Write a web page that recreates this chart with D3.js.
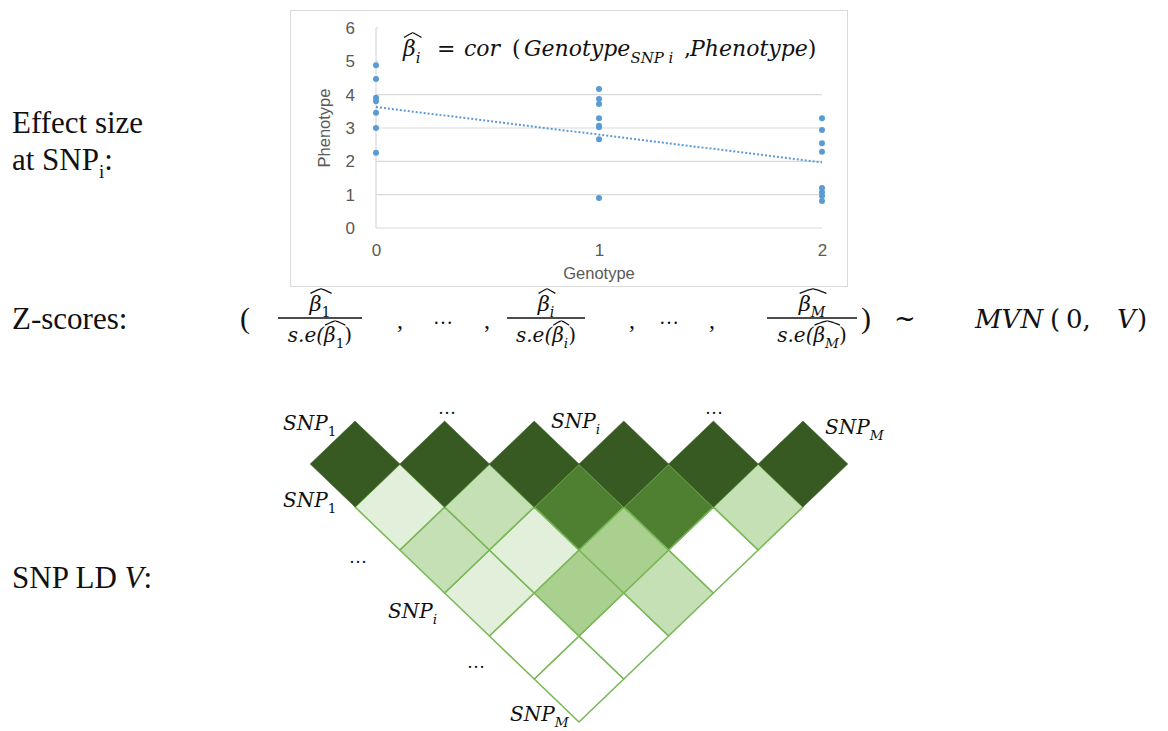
<!DOCTYPE html>
<html>
<head>
<meta charset="utf-8">
<script src="https://cdn.jsdelivr.net/npm/d3@7"></script>
<style>
  body { margin: 0; background: #fff; }
  svg { display: block; }
</style>
</head>
<body>
<svg id="fig" width="1168" height="731"></svg>
<script>
// ---- scatter: phenotype by genotype ----
var genotypes = [0, 1, 2];
var phenoG0 = [4.88, 4.47, 3.91, 3.80, 3.46, 3.00, 2.26];
var phenoG1 = [4.17, 3.87, 3.72, 3.29, 3.07, 3.02, 2.66, 0.90];
var phenoG2 = [3.29, 2.94, 2.54, 2.29, 1.20, 1.07, 0.96, 0.81];
var trendX = [0, 2];
var trendY = [3.63, 1.97];
var yTicks = [0, 1, 2, 3, 4, 5, 6];
var xTicks = [0, 1, 2];

// ---- LD triangle: shade level per cell, one array per off-diagonal row ----
var snps = [0, 1, 2, 3, 4, 5];
var ldRow0 = [5, 5, 5, 5, 5, 5];
var ldRow1 = [1, 2, 4, 4, 2];
var ldRow2 = [2, 1, 3, 0];
var ldRow3 = [1, 3, 2];
var ldRow4 = [0, 0];
var ldRow5 = [0];
var ldShades = ["#ffffff", "#e2efda", "#c5e0b4", "#a9d08e", "#4f7f30", "#375a22"];

var MATH = "'DejaVu Serif', serif";
var SERIF = "'Liberation Serif', 'Times New Roman', serif";
var SANS = "'Liberation Sans', Arial, sans-serif";

var svg = d3.select("#fig");

// text with italic parts, subscripts and an optional wide hat
function mathText(parent, x, y, size, anchor, parts, hat) {
  var t = parent.append("text")
    .attr("x", x).attr("y", y)
    .attr("font-family", MATH)
    .attr("font-size", size)
    .attr("text-anchor", anchor)
    .attr("fill", "#111");
  var shift = 0;
  parts.forEach(function(p) {
    var target = p.sub ? size * 0.3 : 0;
    var upright = p.up || /^[0-9]+$/.test(p.t);
    var sp = t.append("tspan").text(p.t)
      .attr("dy", target - shift)
      .attr("font-style", upright ? "normal" : "italic");
    if (p.sub) sp.attr("font-size", size * 0.68);
    if (p.x != null) sp.attr("x", p.x);
    shift = target;
  });
  if (hat) {
    var n = t.node();
    var a = n.getExtentOfChar(hat[0]), b = n.getExtentOfChar(hat[1]);
    var x0 = a.x + 1, x1 = b.x + b.width + 1;
    var base = y - size * 0.84, top = base - size * 0.2;
    parent.append("path")
      .attr("d", "M" + x0 + "," + base + " Q" + ((x0 + x1) / 2) + "," + (top - 1) + " " + ((x0 + x1) / 2) + "," + top +
                 " Q" + ((x0 + x1) / 2) + "," + (top - 1) + " " + x1 + "," + base)
      .attr("fill", "none").attr("stroke", "#111").attr("stroke-width", 1.3);
  }
  return t;
}

function plainText(parent, x, y, size, str, anchor) {
  return parent.append("text").attr("x", x).attr("y", y)
    .attr("font-family", SERIF).attr("font-size", size)
    .attr("text-anchor", anchor || "start").attr("fill", "#111").text(str);
}

// ---------------- left labels ----------------
plainText(svg, 12, 133, 31, "Effect size");
var at = plainText(svg, 12, 170, 31, "at SNP");
at.append("tspan").attr("dy", 8).attr("font-size", 19).text("i");
at.append("tspan").attr("dy", -8).text(":");
plainText(svg, 12, 329, 31, "Z-scores:");
var ld = plainText(svg, 12, 588, 31, "SNP LD ");
ld.append("tspan").attr("font-style", "italic").text("V");
ld.append("tspan").text(":");

// ---------------- scatter ----------------
var sc = svg.append("g");
var x = d3.scaleLinear().domain([0, 2]).range([376, 822]);
var y = d3.scaleLinear().domain([0, 6]).range([228, 28]);

sc.append("rect").attr("x", 290.5).attr("y", 10.5).attr("width", 557).attr("height", 276)
  .attr("fill", "#fff").attr("stroke", "#d9d9d9");

sc.selectAll("line.grid").data(yTicks).enter().append("line")
  .attr("class", "grid")
  .attr("x1", x(0)).attr("x2", x(2))
  .attr("y1", function(d) { return y(d); }).attr("y2", function(d) { return y(d); })
  .attr("stroke", "#d9d9d9").attr("stroke-width", 1.2);
sc.append("line").attr("x1", x(0)).attr("x2", x(0)).attr("y1", y(0)).attr("y2", y(6))
  .attr("stroke", "#d9d9d9").attr("stroke-width", 1.2);

// formula box (white) sits over the top gridlines
sc.append("rect").attr("x", 378).attr("y", 24).attr("width", 446).attr("height", 52).attr("fill", "#fff");

var yAxis = sc.append("g").attr("transform", "translate(" + x(0) + ",0)")
  .call(d3.axisLeft(y).tickValues(yTicks).tickFormat(d3.format("d")).tickSize(0).tickPadding(21));
var xAxis = sc.append("g").attr("transform", "translate(0," + y(0) + ")")
  .call(d3.axisBottom(x).tickValues(xTicks).tickFormat(d3.format("d")).tickSize(0).tickPadding(16));
[yAxis, xAxis].forEach(function(a) {
  a.select(".domain").remove();
  a.selectAll("text").attr("font-family", SANS).attr("font-size", 17).attr("fill", "#595959");
});

sc.append("text").attr("x", x(1)).attr("y", 279).attr("text-anchor", "middle")
  .attr("font-family", SANS).attr("font-size", 16.5).attr("fill", "#595959").text("Genotype");
sc.append("text").attr("transform", "translate(330," + y(3) + ") rotate(-90)")
  .attr("text-anchor", "middle").attr("font-family", SANS).attr("font-size", 16.5)
  .attr("fill", "#595959").text("Phenotype");

sc.append("line")
  .attr("x1", x(trendX[0])).attr("y1", y(trendY[0]))
  .attr("x2", x(trendX[1])).attr("y2", y(trendY[1]))
  .attr("stroke", "#5b9bd5").attr("stroke-width", 2).attr("stroke-dasharray", "2,2");

var pts = [];
[phenoG0, phenoG1, phenoG2].forEach(function(arr, gi) {
  arr.forEach(function(v) { pts.push({ g: genotypes[gi], p: v }); });
});
sc.selectAll("circle.pt").data(pts).enter().append("circle")
  .attr("class", "pt")
  .attr("cx", function(d) { return x(d.g); })
  .attr("cy", function(d) { return y(d.p); })
  .attr("r", 3).attr("fill", "#5b9bd5");

mathText(sc, 403, 56, 22, "start", [
  { t: "β" }, { t: "i", sub: true },
  { t: "=", up: true, x: 437 }, { t: "cor", x: 464 },
  { t: "(", up: true, x: 512 }, { t: "Genotype", x: 524 },
  { t: "SNP i", sub: true }, { t: ",", up: true, x: 684 },
  { t: "Phenotype", x: 690 }, { t: ")", up: true }
], [0, 1]);

// ---------------- Z-scores ----------------
var zs = svg.append("g");
var barY = 318;
function fraction(cx, w, sub) {
  mathText(zs, cx, barY - 7, 21, "middle", [{ t: "β" }, { t: sub, sub: true }], [0, 1]);
  zs.append("line").attr("x1", cx - w / 2).attr("x2", cx + w / 2)
    .attr("y1", barY).attr("y2", barY).attr("stroke", "#111").attr("stroke-width", 1.6);
  mathText(zs, cx, barY + 24, 20, "middle",
    [{ t: "s.e(" }, { t: "β" }, { t: sub, sub: true }, { t: ")", up: true }], [4, 5]);
}
plainText(zs, 245, barY + 10, 30, "(", "middle");
fraction(320, 84, "1");
plainText(zs, 400, barY + 10, 24, ",", "middle");
plainText(zs, 443, barY + 6, 20, "…", "middle");
plainText(zs, 487, barY + 10, 24, ",", "middle");
fraction(546, 78, "i");
plainText(zs, 632, barY + 10, 24, ",", "middle");
plainText(zs, 669, barY + 6, 20, "…", "middle");
plainText(zs, 712, barY + 10, 24, ",", "middle");
fraction(812, 90, "M");
plainText(zs, 866, barY + 10, 30, ")", "middle");
mathText(zs, 905, barY + 9, 26, "middle", [{ t: "~", up: true }]);
mathText(zs, 975, barY + 10, 26, "start", [
  { t: "MVN" }, { t: "(", up: true, x: 1050 }, { t: "0,", up: true, x: 1066 },
  { t: "V", x: 1117 }, { t: ")", up: true, x: 1137 }
]);

// ---------------- LD triangle ----------------
var lg = svg.append("g");
var sx = d3.scaleLinear().domain([0, 5]).range([355, 803]);
var ry = d3.scaleLinear().domain([0, 5]).range([464, 679]);
var hw = (sx(1) - sx(0)) / 2, hh = ry(1) - ry(0);
var ldRows = [ldRow0, ldRow1, ldRow2, ldRow3, ldRow4, ldRow5];
var cells = [];
ldRows.forEach(function(row, k) {
  row.forEach(function(level, i) { cells.push({ i: i, j: i + k, k: k, level: level }); });
});
// draw the diagonal last so its dark diamonds sit on top
cells.sort(function(a, b) { return b.k - a.k; });
lg.selectAll("path.cell").data(cells).enter().append("path")
  .attr("class", "cell")
  .attr("d", function(d) {
    var cx = (sx(d.i) + sx(d.j)) / 2, cy = ry(d.k);
    return "M" + (cx - hw) + "," + cy + "L" + cx + "," + (cy - hh) + "L" + (cx + hw) + "," + cy + "L" + cx + "," + (cy + hh) + "Z";
  })
  .attr("fill", function(d) { return ldShades[d.level]; })
  .attr("stroke", function(d) { return d.k === 0 ? ldShades[5] : "#7ab857"; })
  .attr("stroke-width", function(d) { return d.k === 0 ? 0.5 : 1.6; })
  .attr("stroke-linejoin", "round");

function snpLabel(xp, yp, sub) {
  mathText(lg, xp, yp, 20, "start", [{ t: "SNP" }, { t: sub, sub: true }]);
}
snpLabel(283, 430, "1");
plainText(lg, 447, 414, 18, "…", "middle");
snpLabel(551, 428, "i");
plainText(lg, 714, 414, 18, "…", "middle");
snpLabel(825, 434, "M");
snpLabel(283, 507, "1");
plainText(lg, 358, 563, 18, "…", "middle");
snpLabel(388, 618, "i");
plainText(lg, 476, 668, 18, "…", "middle");
snpLabel(510, 721, "M");
</script>
</body>
</html>
